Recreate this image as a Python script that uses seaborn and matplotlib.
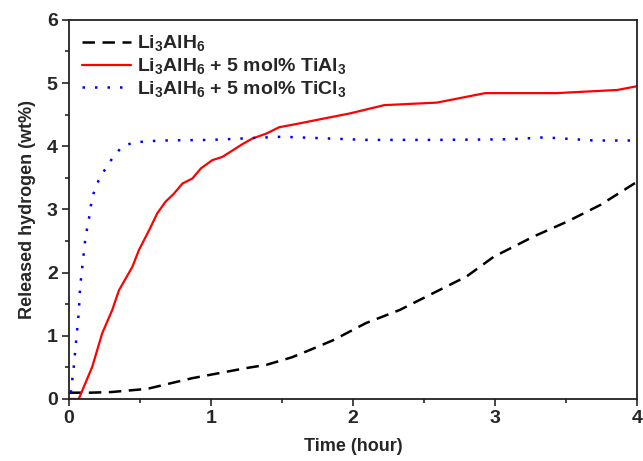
import matplotlib
matplotlib.use("Agg")
import matplotlib.pyplot as plt
import seaborn as sns
import pandas as pd
from matplotlib.ticker import MultipleLocator

sns.set_style("ticks")
plt.rcParams['font.family'] = ['Liberation Sans', 'DejaVu Sans']
plt.rcParams['font.weight'] = 'bold'
plt.rcParams['mathtext.default'] = 'regular'

# Li3AlH6 (black dashed)
t_pure = [0.0, 0.15, 0.3, 0.5, 0.57, 0.7, 0.87, 1.06, 1.25, 1.39, 1.57, 1.68, 1.86, 2.09, 2.33, 2.56, 2.8, 2.99, 3.27, 3.51, 3.74, 3.98, 4.0]
h_pure = [0.1, 0.1, 0.11, 0.15, 0.17, 0.24, 0.33, 0.41, 0.49, 0.54, 0.66, 0.76, 0.93, 1.2, 1.41, 1.67, 1.94, 2.25, 2.57, 2.81, 3.07, 3.41, 3.43]

# + TiAl3 (red solid)
t_tial = [0.0, 0.07, 0.165, 0.235, 0.306, 0.353, 0.447, 0.494, 0.565, 0.623, 0.68, 0.74, 0.8, 0.87, 0.93, 1.01, 1.08, 1.15, 1.22, 1.29, 1.39, 1.48, 1.62, 1.98, 2.22, 2.59, 2.93, 3.43, 3.86, 4.0]
h_tial = [0.0, 0.0, 0.51, 1.04, 1.41, 1.72, 2.09, 2.36, 2.67, 2.94, 3.12, 3.25, 3.41, 3.49, 3.65, 3.78, 3.83, 3.93, 4.03, 4.12, 4.2, 4.3, 4.36, 4.52, 4.65, 4.69, 4.84, 4.84, 4.89, 4.95]

# + TiCl3 (blue dotted)
t_ticl = [0.014, 0.035, 0.052, 0.07, 0.08, 0.1, 0.118, 0.14, 0.165, 0.21, 0.28, 0.365, 0.45, 0.64, 1.0, 1.5, 2.09, 2.6, 3.1, 3.35, 3.7, 4.0]
h_ticl = [0.1, 0.51, 0.93, 1.36, 1.78, 2.2, 2.57, 2.83, 3.2, 3.46, 3.73, 3.97, 4.06, 4.09, 4.1, 4.15, 4.1, 4.1, 4.11, 4.14, 4.09, 4.09]

labels = [r'Li$_3$AlH$_6$',
          r'Li$_3$AlH$_6$ + 5 mol% TiAl$_3$',
          r'Li$_3$AlH$_6$ + 5 mol% TiCl$_3$']

fig = plt.figure(figsize=(6.43, 4.61), dpi=100)
ax = fig.add_axes([0.107, 0.1345, 0.884, 0.8225])

sns.lineplot(data=pd.DataFrame({'t': t_pure, 'h': h_pure}), x='t', y='h', ax=ax,
             color='black', linestyle=(0, (5, 3)), linewidth=1.8, label=labels[0])
sns.lineplot(data=pd.DataFrame({'t': t_tial, 'h': h_tial}), x='t', y='h', ax=ax,
             color='#ff0000', linestyle='-', linewidth=1.6, label=labels[1])
sns.lineplot(data=pd.DataFrame({'t': t_ticl, 'h': h_ticl}), x='t', y='h', ax=ax,
             color='#0000ff', linestyle=(0, (1, 4)), linewidth=1.8, label=labels[2])

ax.set_xlim(0, 4)
ax.set_ylim(0, 6)
ax.xaxis.set_major_locator(MultipleLocator(1))
ax.xaxis.set_minor_locator(MultipleLocator(0.5))
ax.yaxis.set_major_locator(MultipleLocator(1))
ax.yaxis.set_minor_locator(MultipleLocator(0.5))
ax.tick_params(which='major', direction='out', length=5, width=1.2, labelsize=14, pad=3)
ax.tick_params(which='minor', direction='out', length=3, width=1.2)
for lab in ax.get_xticklabels() + ax.get_yticklabels():
    lab.set_fontweight('bold')
for s in ax.spines.values():
    s.set_linewidth(1.3)
    s.set_color('#222222')

ax.set_xlabel('Time (hour)', fontsize=13, fontweight='bold', labelpad=8)
ax.set_ylabel('Released hydrogen (wt%)', fontsize=13, fontweight='bold', labelpad=8)

leg = ax.legend(loc='upper left', frameon=False, fontsize=14, handlelength=2.5,
                handletextpad=0.3, labelspacing=0.15, borderaxespad=0.3,
                bbox_to_anchor=(0.0, 1.0))
for txt in leg.get_texts():
    txt.set_fontweight('bold')

fig.savefig('out.png', dpi=100)
